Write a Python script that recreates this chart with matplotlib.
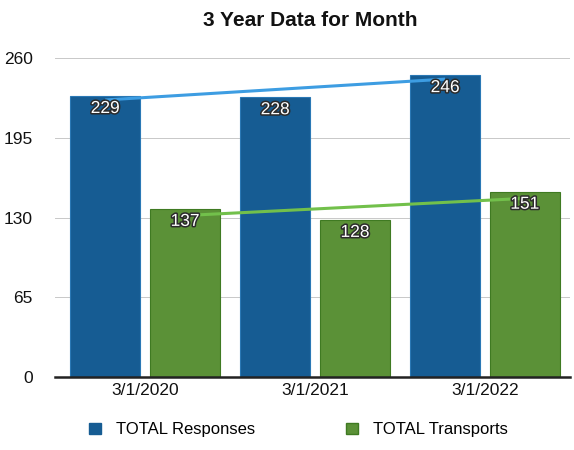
import numpy as np
import matplotlib
matplotlib.use("Agg")
import matplotlib.pyplot as plt
import matplotlib.patheffects as pe
from matplotlib.patches import Patch

plt.rcParams["font.family"] = ["Liberation Sans", "DejaVu Sans"]

# ─── Data ─────────────────────────────────────────────────────────────────────
dates      = ["3/1/2020", "3/1/2021", "3/1/2022"]
responses  = [229, 228, 246]
transports = [137, 128, 151]
yticks     = [0, 65, 130, 195, 260]

BLUE        = "#165c93"
GREEN       = "#5b9137"
BLUE_TREND  = "#3d9de2"
GREEN_TREND = "#72c04b"

x = np.arange(len(dates))
w = 0.41
off = 0.235

fig = plt.figure(figsize=(5.74, 4.5), dpi=100, facecolor="white")
ax = fig.add_axes([0.096, 0.162, 0.897, 0.709])

ax.bar(x - off, responses, w, color=BLUE, edgecolor="#2a78b5", linewidth=0.8, zorder=2)
ax.bar(x + off, transports, w, color=GREEN, edgecolor="#3f7a22", linewidth=0.8, zorder=2)

# linear trend lines
for vals, xs, col in [(responses, x - off, BLUE_TREND), (transports, x + off, GREEN_TREND)]:
    k, b = np.polyfit(x, vals, 1)
    ax.plot([xs[0], xs[-1]], [k * x[0] + b, k * x[-1] + b], color=col, lw=2.2,
            solid_capstyle="butt", zorder=3)

outline = [pe.withStroke(linewidth=2.2, foreground="#2b2b2b")]
for xs, vals in [(x - off, responses), (x + off, transports)]:
    for xi, v in zip(xs, vals):
        ax.text(xi, v - 4, str(v), ha="center", va="top", color="white",
                fontsize=12.5, path_effects=outline, zorder=4)

ax.set_xlim(-0.53, 2.5)
ax.set_ylim(0, 260)
ax.set_yticks(yticks)
ax.set_xticks(x)
ax.set_xticklabels(dates)
ax.grid(axis="y", color="#c8c8c8", lw=0.7, zorder=0)
ax.set_axisbelow(True)
for s in ["top", "right", "left"]:
    ax.spines[s].set_visible(False)
ax.spines["bottom"].set_color("#222222")
ax.spines["bottom"].set_linewidth(1.8)
ax.tick_params(axis="both", length=0, labelsize=12.5, colors="#111111")
ax.tick_params(axis="y", pad=16)
ax.tick_params(axis="x", pad=4)

fig.text(0.54, 0.955, "3 Year Data for Month", ha="center", va="center",
         fontsize=15, fontweight="bold", color="#111111")

handles = [Patch(facecolor=BLUE, edgecolor=BLUE), Patch(facecolor=GREEN, edgecolor="#3f7a22")]
fig.legend(handles, ["TOTAL Responses", "TOTAL Transports"], loc="center",
           bbox_to_anchor=(0.52, 0.045), ncol=2, frameon=False, fontsize=12,
           handlelength=0.7, handleheight=0.7, columnspacing=5.5, handletextpad=0.9)

fig.savefig("out.png", dpi=100, facecolor="white")
